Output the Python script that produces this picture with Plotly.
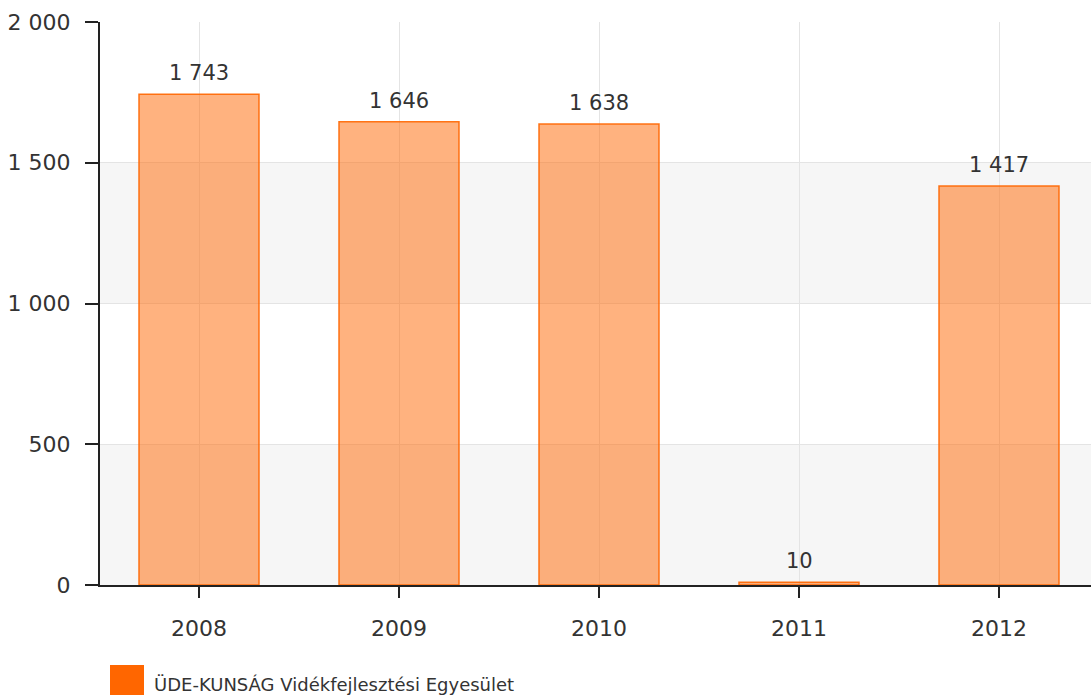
import plotly.graph_objects as go

years = ["2008", "2009", "2010", "2011", "2012"]
values = [1743, 1646, 1638, 10, 1417]
series_name = "ÜDE-KUNSÁG Vidékfejlesztési Egyesület"
y_ticks = [0, 500, 1000, 1500, 2000]

FONT = "DejaVu Sans"
TXT = "#333333"
ORANGE = "#ff6600"

fig = go.Figure()
fig.add_trace(go.Bar(
    x=years, y=values, name=series_name, width=0.6,
    marker=dict(color="rgba(255,102,0,0.5)", line=dict(color="rgba(255,102,0,0.9)", width=1.5)),
    showlegend=False, hoverinfo="x+y",
))

def fmt(v):
    return f"{v:,}".replace(",", " ")

for i, v in enumerate(values):
    fig.add_annotation(x=i, y=v, text=fmt(v), showarrow=False, yanchor="bottom",
                       yshift=7, font=dict(family=FONT, size=21, color=TXT))

# alternating bands
for lo, hi in [(0, 500), (1000, 1500)]:
    fig.add_shape(type="rect", xref="paper", yref="y", x0=0, x1=1, y0=lo, y1=hi,
                  fillcolor="#f6f6f6", line=dict(width=0), layer="below")

# manual legend
fig.add_shape(type="rect", xref="paper", yref="paper", xsizemode="pixel", ysizemode="pixel",
              xanchor=0, yanchor=0, x0=10, x1=44, y0=-80, y1=-120,
              fillcolor=ORANGE, line=dict(width=0))
fig.add_annotation(xref="paper", yref="paper", x=0, y=0, xshift=52, yshift=-99,
                   xanchor="left", yanchor="middle", showarrow=False, text=series_name,
                   font=dict(family=FONT, size=18, color=TXT))

fig.update_layout(
    width=1091, height=695,
    margin=dict(l=100, r=0, t=22, b=110),
    paper_bgcolor="white", plot_bgcolor="white",
    font=dict(family=FONT, size=20, color=TXT),
    separators=", ",
    showlegend=False,
    xaxis=dict(
        type="category", range=[-0.495, 4.46], automargin=False,
        showgrid=True, gridcolor="#e4e4e4", gridwidth=1,
        showline=True, linecolor="#222222", linewidth=2,
        ticks="outside", ticklen=11, tickcolor="#222222", tickwidth=2,
        ticklabelstandoff=12,
        tickfont=dict(family=FONT, size=22, color=TXT),
    ),
    yaxis=dict(
        range=[0, 2000], tickvals=y_ticks, tickformat=",d", automargin=False,
        showgrid=True, gridcolor="#e4e4e4", gridwidth=1,
        showline=True, linecolor="#222222", linewidth=2,
        ticks="outside", ticklen=13, tickcolor="#222222", tickwidth=2,
        ticklabelstandoff=10, zeroline=False,
        tickfont=dict(family=FONT, size=22, color=TXT),
    ),
)

fig.write_html(
    "out.html",
    config={"displayModeBar": False},
    post_script="document.body.style.margin='0';document.body.style.overflow='hidden';",
)
